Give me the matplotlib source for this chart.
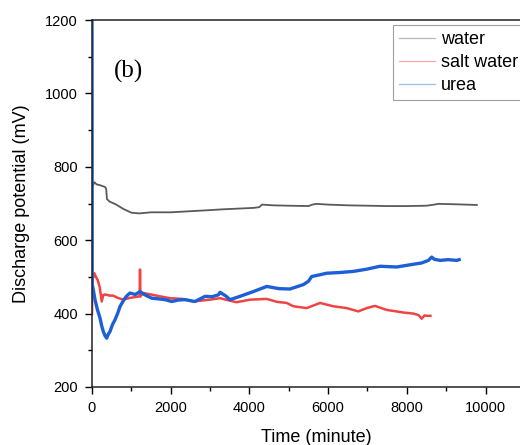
import matplotlib
matplotlib.use('Agg')
import matplotlib.pyplot as plt
from matplotlib.lines import Line2D
from matplotlib.ticker import MultipleLocator

plt.rcParams['font.family'] = ['Liberation Sans', 'DejaVu Sans']

# Discharge potential readings
water_t = [0, 20, 60, 120, 200, 280, 330, 360, 380, 450, 600, 800, 1000, 1200, 1500,
           2000, 2500, 3000, 3300, 3700, 4100, 4250, 4320, 4600, 5000, 5500, 5600,
           5700, 6000, 6500, 7000, 7500, 8000, 8500, 8700, 8800, 9200, 9780]
water_v = [762, 748, 758, 752, 750, 747, 745, 740, 712, 705, 698, 685, 675, 673, 676,
           676, 679, 682, 684, 686, 688, 690, 697, 695, 694, 693, 697,
           699, 697, 695, 694, 693, 693, 694, 697, 699, 698, 696]

salt_t = [0, 10, 30, 60, 100, 150, 200, 246, 288, 350, 450, 536, 650, 796, 966, 1100,
          1210, 1220, 1230, 1305, 1500, 1728, 1982, 2300, 2575, 2999, 3253, 3591,
          3676, 4015, 4440, 4700, 4948, 5117, 5456, 5795, 6133, 6472, 6768, 6980,
          7192, 7489, 7912, 8166, 8300, 8378, 8450, 8506, 8600]
salt_v = [400, 505, 498, 510, 500, 490, 470, 433, 451, 452, 449, 449, 443, 438, 443, 445,
          447, 520, 447, 456, 452, 447, 442, 440, 433, 438, 442, 433,
          431, 438, 440, 432, 429, 420, 415, 429, 420, 415, 406, 415,
          421, 410, 403, 400, 396, 386, 395, 394, 394]

urea_t = [0, 5, 33, 76, 140, 203, 250, 288, 330, 373, 420, 457, 520, 584, 650, 711,
          780, 838, 900, 966, 1100, 1220, 1347, 1517, 1700, 1855, 2025, 2200, 2363,
          2617, 2872, 3050, 3210, 3253, 3400, 3507, 3761, 4100, 4440, 4750, 5032,
          5371, 5500, 5583, 5800, 5964, 6303, 6641, 6980, 7319, 7743, 8082, 8378,
          8550, 8632, 8700, 8844, 9050, 9268, 9330]
urea_v = [1250, 480, 465, 438, 410, 388, 365, 351, 340, 333, 345, 351, 370, 383, 400, 419,
          432, 442, 450, 456, 452, 460, 451, 442, 440, 438, 433, 437, 438,
          433, 447, 446, 451, 458, 448, 438, 447, 460, 474, 468, 467,
          479, 488, 501, 506, 510, 512, 515, 521, 529, 527, 533, 538,
          545, 554, 548, 545, 547, 545, 547]

labels = ['water', 'salt water', 'urea']
colors = ['#5a5a5a', '#f04444', '#1c5fd6']
legend_colors = ['#b8b8b8', '#f7a8a8', '#9dbcf0']

fig = plt.figure(figsize=(5.2, 4.45), dpi=100)
# axes runs past the right edge of the picture, as in the cropped original
ax = fig.add_axes([92 / 520, 58 / 445, 448 / 520, 367 / 445])

ax.plot(water_t, water_v, color=colors[0], lw=1.3)
ax.plot(salt_t, salt_v, color=colors[1], lw=1.8)
ax.plot(urea_t, urea_v, color=colors[2], lw=2.4)

ax.set_xlim(0, 11385)
ax.set_ylim(200, 1200)
ax.xaxis.set_major_locator(MultipleLocator(2000))
ax.xaxis.set_minor_locator(MultipleLocator(1000))
ax.yaxis.set_major_locator(MultipleLocator(200))
ax.yaxis.set_minor_locator(MultipleLocator(100))
ax.tick_params(which='major', direction='out', length=5, width=1, labelsize=10.5, pad=5)
ax.tick_params(which='minor', direction='out', length=3, width=1)
ax.spines['right'].set_visible(False)
for s in ['left', 'bottom', 'top']:
    ax.spines[s].set_linewidth(1.1)
    ax.spines[s].set_color('#222222')

ax.set_xlabel('Time (minute)', fontsize=13, labelpad=10)
ax.set_ylabel('Discharge potential (mV)', fontsize=13, labelpad=11)

ax.text(940, 1060, '(b)', family=['Liberation Serif', 'DejaVu Serif'],
        fontsize=18, ha='center', va='center')

handles = [Line2D([0], [0], color=c, lw=0.9) for c in legend_colors]
leg = fig.legend(handles, labels, loc='upper left', bbox_to_anchor=(393 / 520, 1 - 25 / 445),
                 fontsize=13, frameon=True, fancybox=False, handlelength=2.0,
                 handletextpad=0.3, labelspacing=0.32, borderpad=0.35, borderaxespad=0)
leg.get_frame().set_edgecolor('#888888')
leg.get_frame().set_linewidth(0.8)

fig.savefig('out.png', dpi=100)
